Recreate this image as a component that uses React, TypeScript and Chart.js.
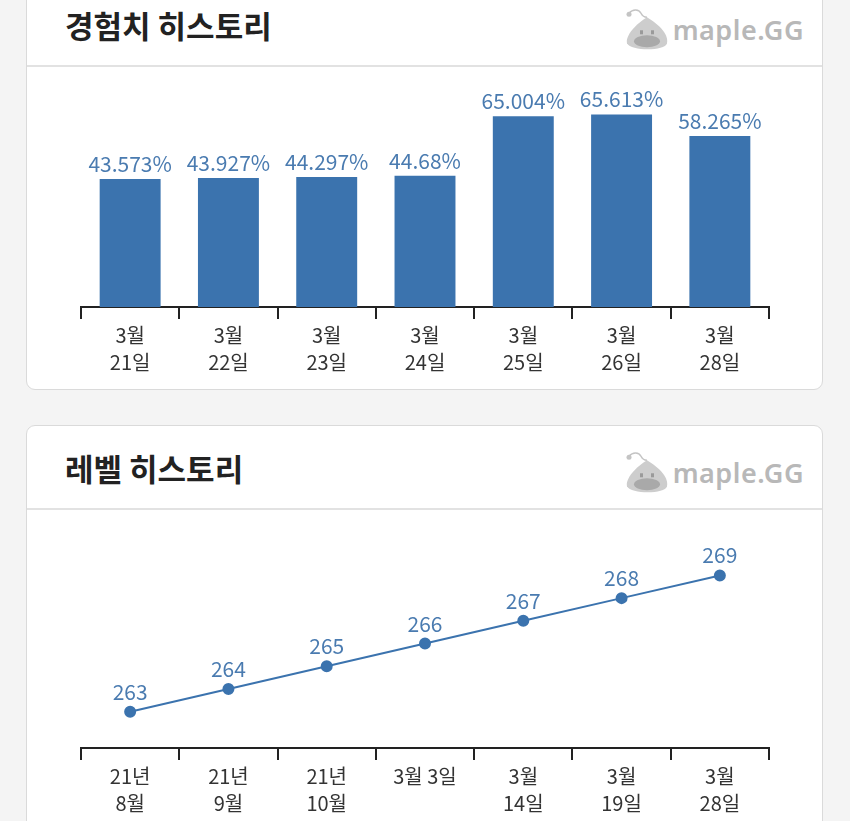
import React, { useEffect, useRef } from 'react';
import { Chart, registerables } from 'chart.js';

Chart.register(...registerables);

// ---- data ----
const expDates: (string | string[])[] = [
  ['3월', '21일'], ['3월', '22일'], ['3월', '23일'], ['3월', '24일'],
  ['3월', '25일'], ['3월', '26일'], ['3월', '28일'],
];
const expValues = [43.573, 43.927, 44.297, 44.68, 65.004, 65.613, 58.265];
const expLabels = ['43.573%', '43.927%', '44.297%', '44.68%', '65.004%', '65.613%', '58.265%'];

const levelDates: (string | string[])[] = [
  ['21년', '8월'], ['21년', '9월'], ['21년', '10월'], '3월 3일',
  ['3월', '14일'], ['3월', '19일'], ['3월', '28일'],
];
const levelValues = [263, 264, 265, 266, 267, 268, 269];
const levelLabels = ['263', '264', '265', '266', '267', '268', '269'];

const FONT = "'Noto Sans CJK KR', 'Noto Sans', sans-serif";
const BLUE = '#3b73ae';
const LABEL_BLUE = '#4a7bb0';

function makeLabelPlugin(labels: string[], offset: number) {
  return {
    id: 'valueLabels',
    afterDatasetsDraw(chart: any) {
      const ctx = chart.ctx;
      const meta = chart.getDatasetMeta(0);
      ctx.save();
      ctx.font = `400 21px ${FONT}`;
      ctx.fillStyle = LABEL_BLUE;
      ctx.textAlign = 'center';
      ctx.textBaseline = 'middle';
      meta.data.forEach((el: any, i: number) => {
        ctx.fillText(labels[i], el.x, el.y - offset);
      });
      ctx.restore();
    },
  };
}

function xScale() {
  return {
    offset: true,
    grid: {
      offset: true,
      drawOnChartArea: false,
      drawTicks: true,
      tickLength: 12,
      lineWidth: 2,
      color: '#222',
    },
    border: { display: true, color: '#222', width: 2 },
    ticks: {
      color: '#333',
      font: { family: FONT, size: 20, lineHeight: 1.35 },
      padding: 3,
      maxRotation: 0,
      autoSkip: false,
    },
  };
}

function ExpChart() {
  const ref = useRef<HTMLCanvasElement>(null);
  useEffect(() => {
    const chart = new Chart(ref.current!, {
      type: 'bar',
      data: {
        labels: expDates as any,
        datasets: [{
          data: expValues,
          backgroundColor: BLUE,
          barPercentage: 0.62,
          categoryPercentage: 1,
        }],
      },
      options: {
        animation: false,
        responsive: false,
        maintainAspectRatio: false,
        layout: { padding: { left: 54, right: 53, top: 24, bottom: 10 } },
        plugins: { legend: { display: false }, tooltip: { enabled: false } },
        scales: {
          x: xScale() as any,
          y: { display: false, min: 0, max: 73.6 },
        },
      },
      plugins: [makeLabelPlugin(expLabels, 15)],
    });
    return () => chart.destroy();
  }, []);
  return <canvas ref={ref} width={795} height={322} style={{ display: 'block' }} />;
}

function LevelChart() {
  const ref = useRef<HTMLCanvasElement>(null);
  useEffect(() => {
    const chart = new Chart(ref.current!, {
      type: 'line',
      data: {
        labels: levelDates as any,
        datasets: [{
          data: levelValues,
          borderColor: BLUE,
          backgroundColor: BLUE,
          borderWidth: 2,
          pointRadius: 5,
          pointBackgroundColor: BLUE,
          pointBorderColor: BLUE,
          tension: 0,
        }],
      },
      options: {
        animation: false,
        responsive: false,
        maintainAspectRatio: false,
        layout: { padding: { left: 54, right: 53, top: 20, bottom: 12 } },
        plugins: { legend: { display: false }, tooltip: { enabled: false } },
        scales: {
          x: xScale() as any,
          y: { display: false, min: 261.4, max: 271 },
        },
      },
      plugins: [makeLabelPlugin(levelLabels, 20)],
    });
    return () => chart.destroy();
  }, []);
  return <canvas ref={ref} width={795} height={322} style={{ display: 'block' }} />;
}

function Logo() {
  return (
    <div style={{ position: 'absolute', right: 18, top: '50%', transform: 'translateY(-38%)', display: 'flex', alignItems: 'center' }}>
      <svg width="48" height="44" viewBox="0 0 48 44">
        <path d="M6 6 C 10 1, 16 2, 18 6 C 20 10, 22 10, 24 10" stroke="#c4c4c4" strokeWidth="1.5" fill="none" />
        <circle cx="6" cy="7" r="2.5" fill="#c4c4c4" />
        <path d="M24 10 C 34 16, 46 26, 44 36 C 42 44, 8 44, 4 36 C 2 28, 14 16, 24 10 Z" fill="#cdcdcd" />
        <ellipse cx="24" cy="34" rx="13" ry="6" fill="#a9a9a9" />
        <rect x="17" y="23" width="3" height="4" fill="#9a9a9a" />
        <rect x="28" y="23" width="3" height="4" fill="#9a9a9a" />
      </svg>
      <span style={{ fontFamily: "'Noto Sans', sans-serif", fontWeight: 600, fontSize: 27, color: '#b8b8b8', marginLeft: 2, letterSpacing: 0.5 }}>maple.GG</span>
    </div>
  );
}

function Card({ title, top, height, children }: any) {
  return (
    <div style={{
      position: 'absolute', left: 26, top, width: 795, height,
      background: '#fff', border: '1px solid #dadada', borderRadius: 9,
      overflow: 'hidden',
    }}>
      <div style={{ position: 'relative', height: 82, borderBottom: '2px solid #e2e2e2' }}>
        <div style={{
          position: 'absolute', left: 38, top: 0, height: 82, display: 'flex', alignItems: 'center',
          fontFamily: FONT, fontWeight: 700, fontSize: 31, color: '#222',
        }}>{title}</div>
        <Logo />
      </div>
      {children}
    </div>
  );
}

export default function App() {
  useEffect(() => {
    document.body.style.margin = '0';
    document.body.style.background = '#f4f4f4';
  }, []);
  return (
    <div style={{ position: 'relative', width: 850, height: 821, overflow: 'hidden', background: '#f4f4f4' }}>
      <Card title="경험치 히스토리" top={-18} height={406}>
        <ExpChart />
      </Card>
      <Card title="레벨 히스토리" top={425} height={420}>
        <LevelChart />
      </Card>
    </div>
  );
}
